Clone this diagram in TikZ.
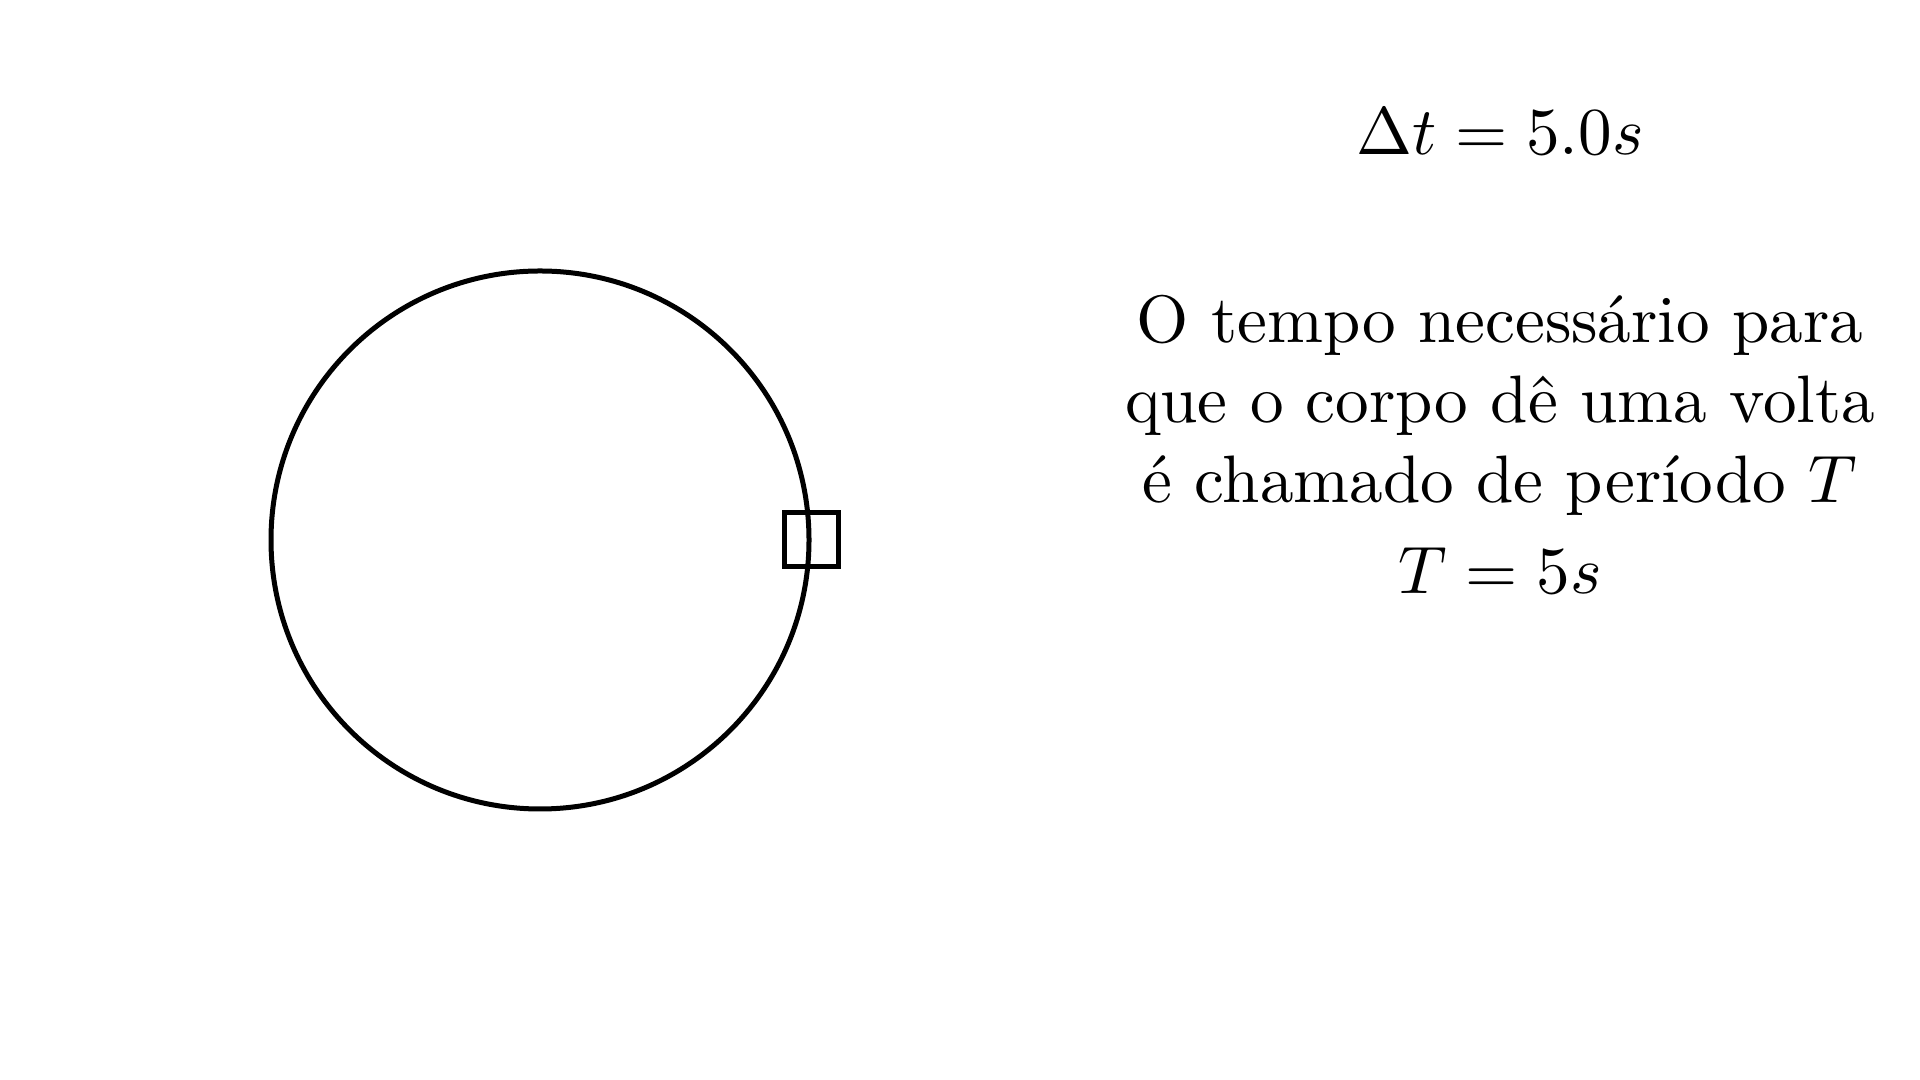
\documentclass[tikz,border=0pt]{standalone}
\begin{document}
\begin{tikzpicture}[
  stroke/.style={line width=0.05cm, black},
  txt/.style={anchor=base, inner sep=0pt, scale=1.91, transform shape, font=\fontsize{10}{12}\selectfont}
]
\useasboundingbox (0,0) rectangle (19.2,10.8);
% circle and body
\draw[stroke] (5.40,5.40) circle (2.69);
\node[stroke, draw, rectangle, minimum size=0.54cm, inner sep=0pt] (body) at (8.115,5.40) {};
% texts
\node[txt] (dt) at (15.00,9.25) {$\Delta t = 5.0s$};
\node[txt] (l1) at (15.00,7.375) {O tempo necessário para};
\node[txt] (l2) at (15.00,6.57) {que o corpo dê uma volta};
\node[txt] (l3) at (15.00,5.77) {é chamado de período $T$};
\node[txt] (tt) at (15.00,4.86) {$T = 5s$};
\end{tikzpicture}
\end{document}
